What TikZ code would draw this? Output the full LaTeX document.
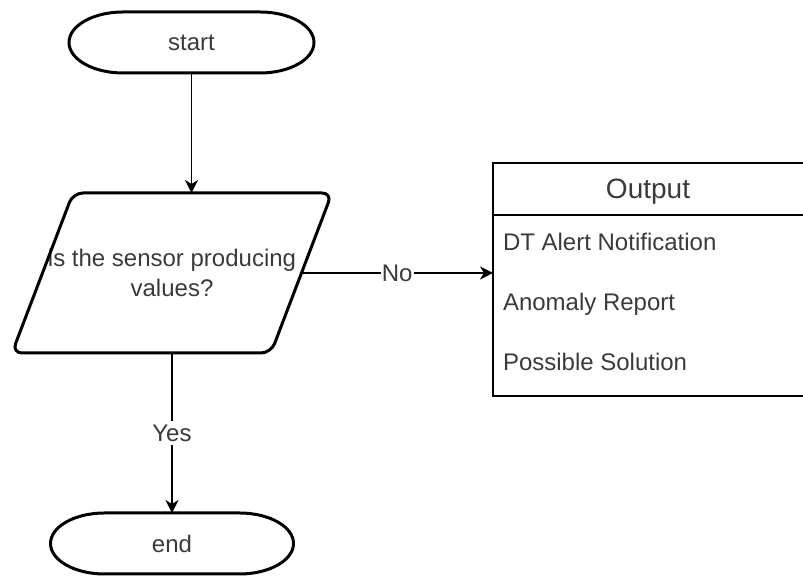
\documentclass[tikz,border=0pt]{standalone}
\usepackage{fontspec}
\setmainfont{Liberation Sans}
\usetikzlibrary{arrows.meta}
\definecolor{txt}{HTML}{3A3A3A}
\begin{document}
\begin{tikzpicture}[x=0.5pt,y=0.5pt,
  every node/.style={font=\fontsize{12}{14.85}\selectfont, text=txt, inner sep=0pt, outer sep=0pt},
  shapeline/.style={draw=black, line width=1.5pt, line join=round},
  frame/.style={draw=black, line width=0.8pt},
  arr/.style={draw=black, line width=0.9pt, -{Stealth[length=6.5pt,width=6.5pt,inset=2pt]}},
  lab/.style={fill=white, inner xsep=0.5pt, inner ysep=2pt},
  term/.style={minimum height=30.5pt},
  item/.style={anchor=base west}]
\useasboundingbox (0,0) rectangle (803,576);

% terminators
\node[term, minimum width=122.5pt] (start) at (191.5,533.5) {start};
\draw[shapeline] ([xshift=27pt]start.north west) -- ([xshift=-27pt]start.north east)
  arc[start angle=90,end angle=-90,x radius=27pt,y radius=15.25pt]
  -- ([xshift=27pt]start.south west)
  arc[start angle=270,end angle=90,x radius=27pt,y radius=15.25pt] -- cycle;

\node[term, minimum width=121.5pt] (end) at (172,32.5) {end};
\draw[shapeline] ([xshift=27pt]end.north west) -- ([xshift=-27pt]end.north east)
  arc[start angle=90,end angle=-90,x radius=27pt,y radius=15.25pt]
  -- ([xshift=27pt]end.south west)
  arc[start angle=270,end angle=90,x radius=27pt,y radius=15.25pt] -- cycle;

% decision (parallelogram)
\node[minimum width=160pt, minimum height=80pt, align=center] (dec) at (172,303)
  {is the sensor producing\\values?};
\draw[shapeline, rounded corners=5pt] (dec.south west) -- ([xshift=-30.5pt]dec.south east)
  -- (dec.north east) -- ([xshift=30.5pt]dec.north west) -- cycle;
\coordinate (decR) at ([xshift=-15.25pt]dec.east);

% output list
\node[frame, minimum width=157.5pt, minimum height=116.5pt] (out) at (650.5,296.5) {};
\draw[frame] ([yshift=-26pt]out.north west) -- ([yshift=-26pt]out.north east);
\node[font=\fontsize{14}{16}\selectfont, anchor=base] (outTitle) at (648,377.5) {Output};
\node[item] (item1) at (503,325.5) {DT Alert Notification};
\node[item] (item2) at (503,265) {Anomaly Report};
\node[item] (item3) at (503,205) {Possible Solution};

% connectors
\draw[arr] (start.south) -- (start.south |- dec.north);
\draw[arr] (decR) -- node[lab] {No} (decR -| out.west);
\draw[arr] (dec.south) -- node[lab] {Yes} (end.north);
\end{tikzpicture}
\end{document}
